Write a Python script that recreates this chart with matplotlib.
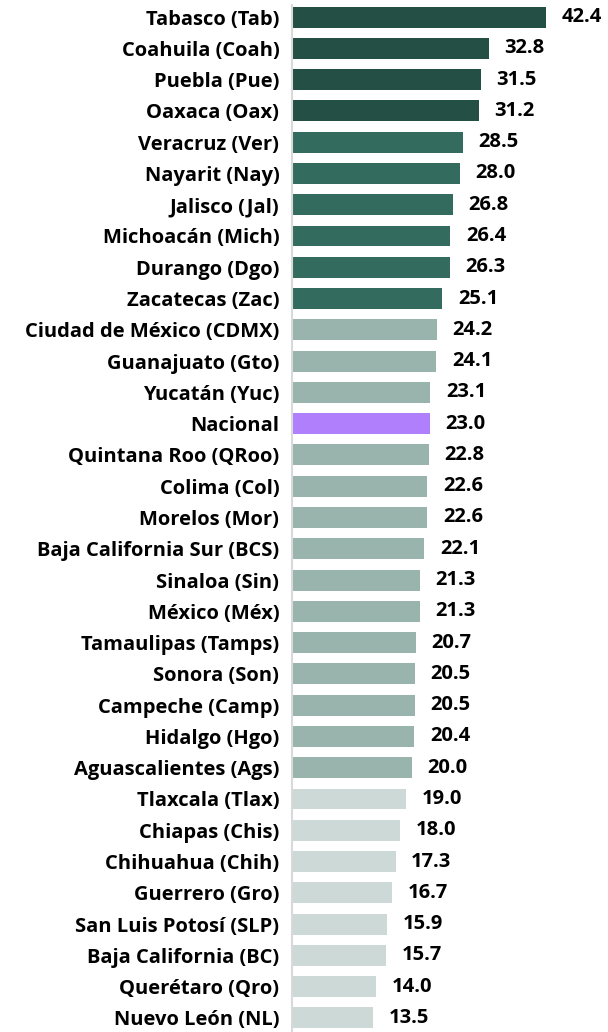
import matplotlib.pyplot as plt

# Estados y valores (de mayor a menor)
estados = ["Tabasco (Tab)", "Coahuila (Coah)", "Puebla (Pue)", "Oaxaca (Oax)",
           "Veracruz (Ver)", "Nayarit (Nay)", "Jalisco (Jal)", "Michoacán (Mich)",
           "Durango (Dgo)", "Zacatecas (Zac)", "Ciudad de México (CDMX)",
           "Guanajuato (Gto)", "Yucatán (Yuc)", "Nacional", "Quintana Roo (QRoo)",
           "Colima (Col)", "Morelos (Mor)", "Baja California Sur (BCS)",
           "Sinaloa (Sin)", "México (Méx)", "Tamaulipas (Tamps)", "Sonora (Son)",
           "Campeche (Camp)", "Hidalgo (Hgo)", "Aguascalientes (Ags)",
           "Tlaxcala (Tlax)", "Chiapas (Chis)", "Chihuahua (Chih)",
           "Guerrero (Gro)", "San Luis Potosí (SLP)", "Baja California (BC)",
           "Querétaro (Qro)", "Nuevo León (NL)"]
valores = [42.4, 32.8, 31.5, 31.2, 28.5, 28.0, 26.8, 26.4, 26.3, 25.1,
           24.2, 24.1, 23.1, 23.0, 22.8, 22.6, 22.6, 22.1, 21.3, 21.3,
           20.7, 20.5, 20.5, 20.4, 20.0, 19.0, 18.0, 17.3, 16.7, 15.9,
           15.7, 14.0, 13.5]
# grupo de color de cada barra
grupos = ["alto"] * 4 + ["medio_alto"] * 6 + ["medio"] * 3 + ["nacional"] + \
         ["medio"] * 11 + ["bajo"] * 8

colores = {"alto": "#234F44", "medio_alto": "#336B5E", "medio": "#99B3AD",
           "bajo": "#CDD9D6", "nacional": "#B07FFC"}

plt.rcParams['font.family'] = ['Open Sans', 'DejaVu Sans']

fig = plt.figure(figsize=(6.08, 10.32), dpi=100)
ax = fig.add_axes([0.480, 0.0, 0.52, 0.995])

pos = list(range(len(estados)))
ax.barh(pos, valores, height=0.67, color=[colores[g] for g in grupos])

for p, v in zip(pos, valores):
    ax.text(v + 2.6, p, f"{v:.1f}", va="center", ha="left",
            fontsize=14.5, fontweight="bold", color="black")

ax.set_yticks(pos)
ax.set_yticklabels(estados, fontsize=14.5, fontweight="bold", color="black")
ax.tick_params(axis="y", length=0, pad=9)
ax.set_xticks([])
ax.set_xlim(0, 52.7)
ax.set_ylim(32.45, -0.38)

for s in ["top", "right", "bottom"]:
    ax.spines[s].set_visible(False)
ax.spines["left"].set_color("#D9D9D9")
ax.spines["left"].set_linewidth(1.5)

fig.savefig("out.png", dpi=100)
